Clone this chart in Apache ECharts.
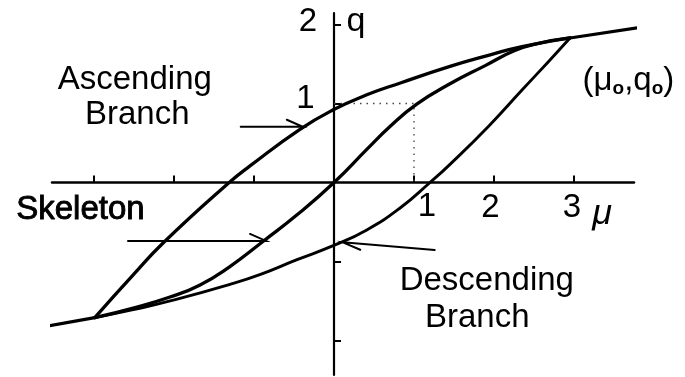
<!DOCTYPE html>
<html>
<head>
<meta charset="utf-8">
<script src="https://cdn.jsdelivr.net/npm/echarts@6/dist/echarts.min.js"></script>
<style>
  html, body { margin: 0; padding: 0; background: #fff; }
  #chart { width: 685px; height: 377px; }
</style>
</head>
<body>
<div id="chart"></div>
<script>
// ---- curve data (μ, q) ----
// skeleton curve through the origin, between the two loop tips
const skeleton = [
  [-2.99, -1.71], [-2.51, -1.59], [-2.05, -1.45], [-1.68, -1.30], [-1.31, -1.07],
  [-0.88, -0.74], [-0.45, -0.40], [0, 0], [0.41, 0.42], [0.70, 0.71],
  [1.03, 0.99], [1.45, 1.25], [1.89, 1.48], [2.26, 1.67], [2.55, 1.76], [2.95, 1.83]
];
// ascending branch from (-μo,-qo) up to (μo,qo)
const ascendingBranch = [
  [-2.99, -1.71], [-2.51, -1.17], [-2.13, -0.76], [-1.31, 0], [-1.05, 0.21],
  [-0.43, 0.67], [-0.01, 0.92], [0.41, 1.11], [0.83, 1.26], [1.45, 1.47],
  [1.93, 1.61], [2.35, 1.72], [2.95, 1.83]
];
// descending branch from (μo,qo) down to (-μo,-qo)
const descendingBranch = [
  [2.95, 1.83], [2.68, 1.53], [2.35, 1.17], [1.93, 0.71], [1.45, 0.23],
  [1.20, 0], [0.83, -0.32], [0.41, -0.60], [-0.01, -0.80], [-0.47, -0.98],
  [-0.91, -1.16], [-1.30, -1.29], [-2.01, -1.49], [-2.51, -1.61], [-2.99, -1.71]
];
// skeleton continued past the loop tips
const skeletonPastUpperTip = [[2.95, 1.83], [3.80, 1.96]];
const skeletonPastLowerTip = [[-3.82, -1.86], [-2.99, -1.71]];
// dotted guide to the point (1, 1)
const unitGuide = [[0, 1], [1, 1], [1, 0]];

// ---- axes ----
const xTicks = [-3, -2, -1, 1, 2, 3];
const yTicks = [-2, -1, 1, 2];
const xTickLabels = ['1', '2', '3'];
const xTickLabelValues = [1, 2, 3];
const yTickLabels = ['1', '2'];
const yTickLabelValues = [1, 2];
const xName = 'μ';
const yName = 'q';

// ---- annotations ----
const captions = ['Ascending', 'Branch', 'Skeleton', 'Descending', 'Branch'];
const tipLabel = '(μ{s|o},q{s|o})';

const FONT = '"Liberation Sans", Arial, sans-serif';
const chart = echarts.init(document.getElementById('chart'), null, { renderer: 'canvas' });

function curve(data, width) {
  return {
    type: 'line', data: data, symbol: 'none', showSymbol: false, clip: false,
    smooth: 0.5, silent: true,
    lineStyle: { color: '#000', width: width, cap: 'round', join: 'round' }
  };
}

chart.setOption({
  animation: false,
  backgroundColor: '#fff',
  grid: { left: 52, right: 51, top: 13, bottom: 2 },
  xAxis: {
    type: 'value', min: -3.525, max: 3.75,
    axisLine: { onZero: true, lineStyle: { color: '#000', width: 2.5 } },
    axisTick: { show: true, inside: true, length: 7, customValues: xTicks, lineStyle: { color: '#000', width: 2 } },
    axisLabel: { show: false },
    splitLine: { show: false }
  },
  yAxis: {
    type: 'value', min: -2.437, max: 2.146,
    axisLine: { onZero: true, lineStyle: { color: '#000', width: 2.2 } },
    axisTick: { show: true, inside: true, length: 7, customValues: yTicks, lineStyle: { color: '#000', width: 2 } },
    axisLabel: { show: false },
    splitLine: { show: false }
  },
  series: [
    {
      type: 'line', data: unitGuide, symbol: 'none', clip: false, silent: true,
      lineStyle: { color: '#444', width: 1.3, type: [1.5, 5] }
    },
    curve(skeleton, 3.3),
    curve(ascendingBranch, 3.3),
    curve(descendingBranch, 2.9),
    curve(skeletonPastUpperTip, 3.2),
    curve(skeletonPastLowerTip, 3.2)
  ]
});

const px = (p) => chart.convertToPixel({ gridIndex: 0 }, p);

function text(str, p, dx, dy, extra) {
  const q = px(p);
  return {
    type: 'text', x: q[0] + dx, y: q[1] + dy, silent: true,
    style: Object.assign({
      text: str, fill: '#000', fontFamily: FONT, fontSize: 33,
      align: 'center', verticalAlign: 'middle'
    }, extra || {})
  };
}

function arrow(from, to, back, side) {
  const a = px(from), b = px(to);
  const len = Math.hypot(b[0] - a[0], b[1] - a[1]);
  const d = [(b[0] - a[0]) / len, (b[1] - a[1]) / len];
  const n = [d[1], -d[0]];
  const barb = [b[0] - back * d[0] + side * n[0], b[1] - back * d[1] + side * n[1]];
  return {
    type: 'polyline', silent: true,
    shape: { points: [a, b, barb] },
    style: { stroke: '#000', lineWidth: 2, fill: null, lineJoin: 'miter', lineCap: 'round' }
  };
}

const labelOffsets = { x: [[13, 24.5], [-3.5, 25], [-2, 25.5]], y: [[-28.5, -5], [-26, -3]] };

const elements = [];
xTickLabelValues.forEach((v, i) => {
  const o = labelOffsets.x[i];
  elements.push(text(xTickLabels[i], [v, 0], o[0], o[1]));
});
yTickLabelValues.forEach((v, i) => {
  const o = labelOffsets.y[i];
  elements.push(text(yTickLabels[i], [0, v], o[0], o[1]));
});
elements.push(text(xName, [3.35, -0.40], 0, 0, { fontStyle: 'italic', fontSize: 36 }));
elements.push(text(yName, [0.275, 2.04], 0, 0, { fontSize: 34 }));

elements.push(text(captions[0], [-2.49, 1.30], 0, 0));
elements.push(text(captions[1], [-2.46, 0.85], 0, 0));
elements.push(text(captions[2], [-3.17, -0.35], 0, 0, { stroke: '#000', lineWidth: 0.9 }));
elements.push(text(captions[3], [1.91, -1.25], 0, 0));
elements.push(text(captions[4], [1.79, -1.72], 0, 0));
elements.push(text(tipLabel, [3.68, 1.28], 0, 0, {
  rich: { s: { fontSize: 19, fontWeight: 'bold', fontFamily: FONT, verticalAlign: 'bottom' } }
}));

elements.push(arrow([-1.166, 0.706], [-0.39, 0.706], 16, 7));
elements.push(arrow([-2.575, -0.74], [-0.85, -0.74], 16, 7));
elements.push(arrow([1.259, -0.854], [0.11, -0.757], 18, 6));

chart.setOption({ graphic: { elements: elements } });
</script>
</body>
</html>
